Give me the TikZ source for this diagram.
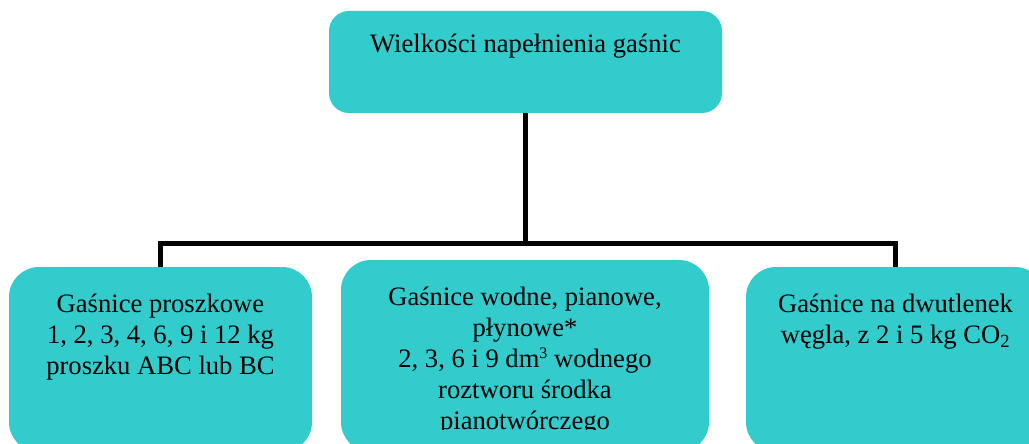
\documentclass[tikz,border=0pt]{standalone}
\usepackage{fontspec}
\setmainfont{Liberation Serif}
\definecolor{boxfill}{RGB}{51,204,204}
\begin{document}
\begin{tikzpicture}[x=1pt,y=-1pt,
  box/.style={draw=none,fill=boxfill,rounded corners=#1,inner sep=0pt},
  lbl/.style={font=\fontsize{26.6}{31}\selectfont,align=center,inner sep=0pt},
  conn/.style={line width=5pt,draw=black}]
\useasboundingbox (0,0) rectangle (1029,444);
\clip (0,0) rectangle (1029,444);
% boxes
\node[box=20pt,minimum width=393pt,minimum height=102pt] (top) at (525.5,62) {};
\node[box=30pt,minimum width=303pt,minimum height=185pt] (left) at (160.5,359.5) {};
\node[box=30pt,minimum width=368pt,minimum height=192pt] (mid) at (525,356) {};
\node[box=30pt,minimum width=299pt,minimum height=185pt] (right) at (895.5,359.5) {};
% texts
\node[lbl,anchor=base] (toptext) at (525.5,53) {Wielkości napełnienia gaśnic};
\node[lbl,anchor=north] (lefttext) at (160.5,294) {Gaśnice proszkowe\\ 1, 2, 3, 4, 6, 9 i 12 kg\\proszku ABC lub BC};
\begin{scope}
\clip (0,0) rectangle (1029,429);
\node[lbl,anchor=north] (midtext) at (525,287) {Gaśnice wodne, pianowe,\\płynowe*\\2, 3, 6 i 9 dm\raisebox{9pt}{\fontsize{16}{16}\selectfont 3} wodnego\\roztworu środka\\pianotwórczego};
\end{scope}
\node[lbl,anchor=north] (righttext) at (895.5,294) {Gaśnice na dwutlenek\\węgla, z 2 i 5 kg CO\textsubscript{2}};
% connectors
\coordinate (j) at (525.5,243);
\draw[conn] (top.south) -- (j);
\draw[conn] (left.north) |- (j) -| (right.north);
\end{tikzpicture}
\end{document}
